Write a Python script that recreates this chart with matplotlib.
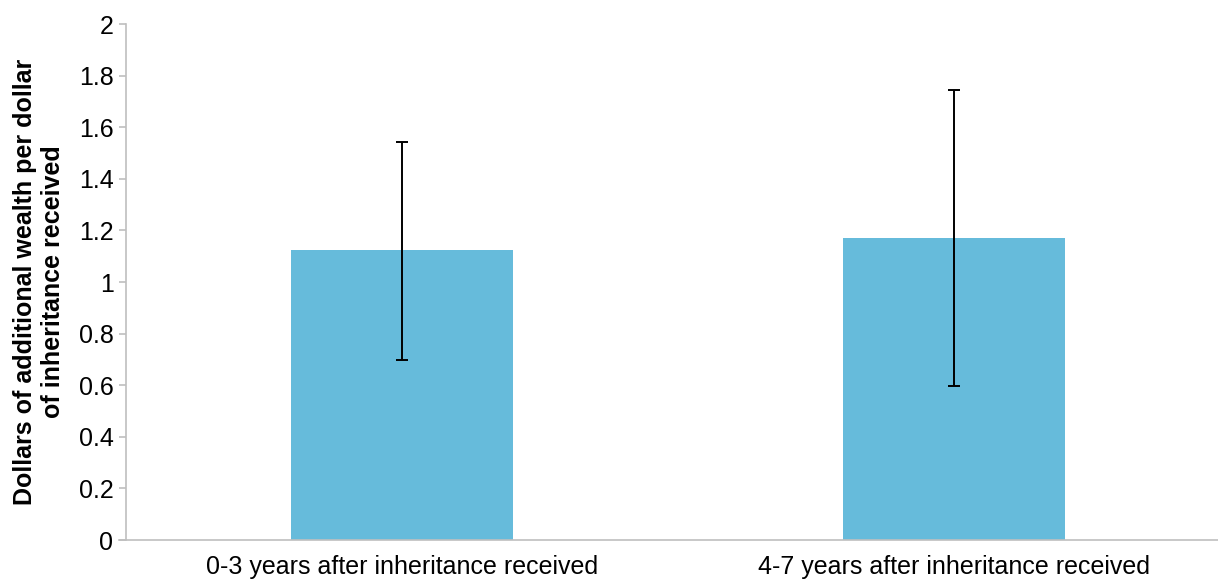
import numpy as np
import matplotlib.pyplot as plt

plt.rcParams['font.family'] = ['Liberation Sans', 'DejaVu Sans']

categories = ['0-3 years after inheritance received', '4-7 years after inheritance received']
values = [1.124, 1.170]
err_low = [0.698, 0.597]
err_high = [1.543, 1.744]

yerr = np.array([[v - lo for v, lo in zip(values, err_low)],
                 [hi - v for v, hi in zip(values, err_high)]])

fig = plt.figure(figsize=(12.18, 5.81), dpi=100)
ax = fig.add_axes([126 / 1218, 1 - 540 / 581, 1104 / 1218, 516 / 581])

x = np.arange(len(categories))
ax.bar(x, values, width=0.402, color='#66bbdb', zorder=2)
ax.errorbar(x, values, yerr=yerr, fmt='none', ecolor='black',
            elinewidth=1.4, capsize=4.5, capthick=1.4, zorder=3)

ax.set_xlim(-0.5, 1.5)
ax.set_ylim(0, 2)
ax.set_yticks(np.arange(0, 2.01, 0.2))
ax.set_yticklabels(['0', '0.2', '0.4', '0.6', '0.8', '1', '1.2', '1.4', '1.6', '1.8', '2'])
ax.set_xticks(x)
ax.set_xticklabels(categories)

for s in ['top', 'right']:
    ax.spines[s].set_visible(False)
for s in ['left', 'bottom']:
    ax.spines[s].set_color('#bfbfbf')
    ax.spines[s].set_linewidth(1.2)
ax.spines['bottom'].set_bounds(-0.5 - 7 / 552, 1.5)

ax.tick_params(axis='y', colors='#bfbfbf', length=5, width=1.2, labelcolor='black',
               labelsize=18, pad=4)
ax.tick_params(axis='x', length=0, labelsize=18, pad=11)

ax.set_ylabel('Dollars of additional wealth per dollar\nof inheritance received',
              fontsize=18, fontweight='bold', labelpad=10, linespacing=1.2)

fig.savefig('out.png', dpi=100)
